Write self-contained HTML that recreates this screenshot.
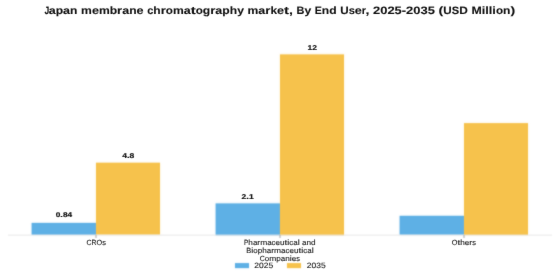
<!DOCTYPE html>
<html><head><meta charset="utf-8">
<style>
html,body{margin:0;padding:0;background:#fff;}
body{width:560px;height:280px;position:relative;overflow:hidden;font-family:"Liberation Sans",sans-serif;}
#w{position:absolute;left:0;top:0;width:560px;height:280px;background:#fff;overflow:hidden;filter:url(#f);}
#tx{position:absolute;left:0;top:0;width:560px;height:280px;overflow:hidden;filter:url(#g);}
.t{position:absolute;white-space:nowrap;line-height:1;text-rendering:geometricPrecision;}
span{position:absolute;left:0;top:0;white-space:pre;line-height:1;transform-origin:0 0;text-rendering:geometricPrecision;}
.bar{position:absolute;left:0;top:0;}
.b{background:#5EB0E5;box-shadow:0 0 2.5px rgba(94,176,229,0.22);}
.y{background:#F6C24C;box-shadow:0 0 2.5px rgba(246,194,76,0.22);}
#axis{position:absolute;left:0;top:0;width:544px;height:1px;background:#e8e8e8;transform:translate(8px,234.6px);}
.tick{position:absolute;left:0;top:0;width:1px;height:2.5px;background:#aaa;}
</style></head><body>
<svg width="0" height="0" style="position:absolute"><filter id="f" x="0" y="0" width="100%" height="100%" color-interpolation-filters="sRGB"><feConvolveMatrix order="3" kernelMatrix="0.0225 0.1050 0.0225 0.1050 0.4900 0.1050 0.0225 0.1050 0.0225" edgeMode="duplicate"/></filter><filter id="g" x="0" y="0" width="100%" height="100%" color-interpolation-filters="sRGB"><feConvolveMatrix order="3" kernelMatrix="0.0036 0.0528 0.0036 0.0528 0.7744 0.0528 0.0036 0.0528 0.0036" edgeMode="duplicate"/></filter></svg>
<div id="w">
<div class="bar b" style="width:65.40px;height:12.22px;transform:translate(31.60px,222.88px)"></div>
<div class="bar y" style="width:64.40px;height:72.43px;transform:translate(96.00px,162.67px)"></div>
<div class="bar b" style="width:65.40px;height:31.69px;transform:translate(215.60px,203.41px)"></div>
<div class="bar y" style="width:64.40px;height:180.70px;transform:translate(280.00px,54.40px)"></div>
<div class="bar b" style="width:65.40px;height:19.32px;transform:translate(399.60px,215.78px)"></div>
<div class="bar y" style="width:64.40px;height:111.97px;transform:translate(464.00px,123.13px)"></div>
<div id="axis"></div>
<div class="tick" style="transform:translate(95.5px,235px)"></div><div class="tick" style="transform:translate(279.5px,235px)"></div><div class="tick" style="transform:translate(463.5px,235px)"></div>
<div class="bar b" style="width:14.00px;height:4.80px;transform:translate(235.00px,263.10px)"></div>
<div class="bar y" style="width:14.20px;height:4.80px;transform:translate(287.00px,263.10px)"></div>
</div>
<div id="tx">
<span style="font-size:10.67px;font-weight:bold;color:#111;transform:translate(44.41px,6.20px) scale(0.800,1.000);-webkit-text-stroke:0.1px #111">J</span>
<span style="font-size:10.67px;font-weight:bold;color:#111;transform:translate(48.71px,6.20px) scale(1.177,1.000);-webkit-text-stroke:0.1px #111">a</span>
<span style="font-size:10.67px;font-weight:bold;color:#111;transform:translate(55.70px,6.20px) scale(1.137,1.000);-webkit-text-stroke:0.1px #111">p</span>
<span style="font-size:10.67px;font-weight:bold;color:#111;transform:translate(63.11px,6.20px) scale(1.178,1.000);-webkit-text-stroke:0.1px #111">a</span>
<span style="font-size:10.67px;font-weight:bold;color:#111;transform:translate(70.11px,6.20px) scale(1.132,1.000);-webkit-text-stroke:0.1px #111">n</span>
<span style="font-size:10.67px;font-weight:bold;color:#111;transform:translate(81.09px,6.20px) scale(1.138,1.000);-webkit-text-stroke:0.1px #111">m</span>
<span style="font-size:10.67px;font-weight:bold;color:#111;transform:translate(91.88px,6.20px) scale(1.184,1.000);-webkit-text-stroke:0.1px #111">e</span>
<span style="font-size:10.67px;font-weight:bold;color:#111;transform:translate(98.91px,6.20px) scale(1.138,1.000);-webkit-text-stroke:0.1px #111">m</span>
<span style="font-size:10.67px;font-weight:bold;color:#111;transform:translate(109.71px,6.20px) scale(1.138,1.000);-webkit-text-stroke:0.1px #111">b</span>
<span style="font-size:10.67px;font-weight:bold;color:#111;transform:translate(117.12px,6.20px) scale(1.230,1.000);-webkit-text-stroke:0.1px #111">r</span>
<span style="font-size:10.67px;font-weight:bold;color:#111;transform:translate(122.23px,6.20px) scale(1.178,1.000);-webkit-text-stroke:0.1px #111">a</span>
<span style="font-size:10.67px;font-weight:bold;color:#111;transform:translate(129.22px,6.20px) scale(1.132,1.000);-webkit-text-stroke:0.1px #111">n</span>
<span style="font-size:10.67px;font-weight:bold;color:#111;transform:translate(136.60px,6.20px) scale(1.183,1.000);-webkit-text-stroke:0.1px #111">e</span>
<span style="font-size:10.67px;font-weight:bold;color:#111;transform:translate(147.23px,6.20px) scale(1.034,1.000);-webkit-text-stroke:0.1px #111">c</span>
<span style="font-size:10.67px;font-weight:bold;color:#111;transform:translate(153.37px,6.20px) scale(1.131,1.000);-webkit-text-stroke:0.1px #111">h</span>
<span style="font-size:10.67px;font-weight:bold;color:#111;transform:translate(160.75px,6.20px) scale(1.230,1.000);-webkit-text-stroke:0.1px #111">r</span>
<span style="font-size:10.67px;font-weight:bold;color:#111;transform:translate(165.86px,6.20px) scale(1.091,1.000);-webkit-text-stroke:0.1px #111">o</span>
<span style="font-size:10.67px;font-weight:bold;color:#111;transform:translate(172.97px,6.20px) scale(1.138,1.000);-webkit-text-stroke:0.1px #111">m</span>
<span style="font-size:10.67px;font-weight:bold;color:#111;transform:translate(183.77px,6.20px) scale(1.177,1.000);-webkit-text-stroke:0.1px #111">a</span>
<span style="font-size:10.67px;font-weight:bold;color:#111;transform:translate(190.76px,6.20px) scale(1.394,1.000);-webkit-text-stroke:0.1px #111">t</span>
<span style="font-size:10.67px;font-weight:bold;color:#111;transform:translate(195.71px,6.20px) scale(1.092,1.000);-webkit-text-stroke:0.1px #111">o</span>
<span style="font-size:10.67px;font-weight:bold;color:#111;transform:translate(202.83px,6.20px) scale(1.137,1.000);-webkit-text-stroke:0.1px #111">g</span>
<span style="font-size:10.67px;font-weight:bold;color:#111;transform:translate(210.24px,6.20px) scale(1.231,1.000);-webkit-text-stroke:0.1px #111">r</span>
<span style="font-size:10.67px;font-weight:bold;color:#111;transform:translate(215.35px,6.20px) scale(1.177,1.000);-webkit-text-stroke:0.1px #111">a</span>
<span style="font-size:10.67px;font-weight:bold;color:#111;transform:translate(222.34px,6.20px) scale(1.138,1.000);-webkit-text-stroke:0.1px #111">p</span>
<span style="font-size:10.67px;font-weight:bold;color:#111;transform:translate(229.76px,6.20px) scale(1.132,1.000);-webkit-text-stroke:0.1px #111">h</span>
<span style="font-size:10.67px;font-weight:bold;color:#111;transform:translate(237.13px,6.20px) scale(1.138,1.000);-webkit-text-stroke:0.1px #111">y</span>
<span style="font-size:10.67px;font-weight:bold;color:#111;transform:translate(247.49px,6.20px) scale(1.138,1.000);-webkit-text-stroke:0.1px #111">m</span>
<span style="font-size:10.67px;font-weight:bold;color:#111;transform:translate(258.29px,6.20px) scale(1.178,1.000);-webkit-text-stroke:0.1px #111">a</span>
<span style="font-size:10.67px;font-weight:bold;color:#111;transform:translate(265.28px,6.20px) scale(1.231,1.000);-webkit-text-stroke:0.1px #111">r</span>
<span style="font-size:10.67px;font-weight:bold;color:#111;transform:translate(270.39px,6.20px) scale(1.114,1.000);-webkit-text-stroke:0.1px #111">k</span>
<span style="font-size:10.67px;font-weight:bold;color:#111;transform:translate(277.00px,6.20px) scale(1.183,1.000);-webkit-text-stroke:0.1px #111">e</span>
<span style="font-size:10.67px;font-weight:bold;color:#111;transform:translate(284.03px,6.20px) scale(1.393,1.000);-webkit-text-stroke:0.1px #111">t</span>
<span style="font-size:10.67px;font-weight:bold;color:#111;transform:translate(288.98px,6.20px) scale(1.327,1.000);-webkit-text-stroke:0.1px #111">,</span>
<span style="font-size:10.67px;font-weight:bold;color:#111;transform:translate(296.52px,6.20px) scale(1.024,1.000);-webkit-text-stroke:0.1px #111">B</span>
<span style="font-size:10.67px;font-weight:bold;color:#111;transform:translate(304.42px,6.20px) scale(1.138,1.000);-webkit-text-stroke:0.1px #111">y</span>
<span style="font-size:10.67px;font-weight:bold;color:#111;transform:translate(314.78px,6.20px) scale(0.994,1.000);-webkit-text-stroke:0.1px #111">E</span>
<span style="font-size:10.67px;font-weight:bold;color:#111;transform:translate(321.86px,6.20px) scale(1.132,1.000);-webkit-text-stroke:0.1px #111">n</span>
<span style="font-size:10.67px;font-weight:bold;color:#111;transform:translate(329.23px,6.20px) scale(1.137,1.000);-webkit-text-stroke:0.1px #111">d</span>
<span style="font-size:10.67px;font-weight:bold;color:#111;transform:translate(340.26px,6.20px) scale(1.091,1.000);-webkit-text-stroke:0.1px #111">U</span>
<span style="font-size:10.67px;font-weight:bold;color:#111;transform:translate(348.67px,6.20px) scale(1.040,1.000);-webkit-text-stroke:0.1px #111">s</span>
<span style="font-size:10.67px;font-weight:bold;color:#111;transform:translate(354.83px,6.20px) scale(1.184,1.000);-webkit-text-stroke:0.1px #111">e</span>
<span style="font-size:10.67px;font-weight:bold;color:#111;transform:translate(361.86px,6.20px) scale(1.006,1.000);-webkit-text-stroke:0.1px #111">r</span>
<span style="font-size:10.67px;font-weight:bold;color:#111;transform:translate(365.45px,6.20px) scale(1.327,1.000);-webkit-text-stroke:0.1px #111">,</span>
<span style="font-size:10.67px;font-weight:bold;color:#111;transform:translate(372.99px,6.20px) scale(1.215,1.000);-webkit-text-stroke:0.1px #111">2</span>
<span style="font-size:10.67px;font-weight:bold;color:#111;transform:translate(380.20px,6.20px) scale(1.215,1.000);-webkit-text-stroke:0.1px #111">0</span>
<span style="font-size:10.67px;font-weight:bold;color:#111;transform:translate(387.41px,6.20px) scale(1.214,1.000);-webkit-text-stroke:0.1px #111">2</span>
<span style="font-size:10.67px;font-weight:bold;color:#111;transform:translate(394.61px,6.20px) scale(1.214,1.000);-webkit-text-stroke:0.1px #111">5</span>
<span style="font-size:10.67px;font-weight:bold;color:#111;transform:translate(401.82px,6.20px) scale(1.211,1.000);-webkit-text-stroke:0.1px #111">-</span>
<span style="font-size:10.67px;font-weight:bold;color:#111;transform:translate(406.12px,6.20px) scale(1.214,1.000);-webkit-text-stroke:0.1px #111">2</span>
<span style="font-size:10.67px;font-weight:bold;color:#111;transform:translate(413.33px,6.20px) scale(1.214,1.000);-webkit-text-stroke:0.1px #111">0</span>
<span style="font-size:10.67px;font-weight:bold;color:#111;transform:translate(420.54px,6.20px) scale(1.215,1.000);-webkit-text-stroke:0.1px #111">3</span>
<span style="font-size:10.67px;font-weight:bold;color:#111;transform:translate(427.75px,6.20px) scale(1.215,1.000);-webkit-text-stroke:0.1px #111">5</span>
<span style="font-size:10.67px;font-weight:bold;color:#111;transform:translate(438.56px,6.20px) scale(1.333,1.000);-webkit-text-stroke:0.1px #111">(</span>
<span style="font-size:10.67px;font-weight:bold;color:#111;transform:translate(443.30px,6.20px) scale(1.092,1.000);-webkit-text-stroke:0.1px #111">U</span>
<span style="font-size:10.67px;font-weight:bold;color:#111;transform:translate(451.71px,6.20px) scale(1.048,1.000);-webkit-text-stroke:0.1px #111">S</span>
<span style="font-size:10.67px;font-weight:bold;color:#111;transform:translate(459.17px,6.20px) scale(1.115,1.000);-webkit-text-stroke:0.1px #111">D</span>
<span style="font-size:10.67px;font-weight:bold;color:#111;transform:translate(471.38px,6.20px) scale(1.159,1.000);-webkit-text-stroke:0.1px #111">M</span>
<span style="font-size:10.67px;font-weight:bold;color:#111;transform:translate(481.69px,6.20px) scale(1.199,1.000);-webkit-text-stroke:0.1px #111">i</span>
<span style="font-size:10.67px;font-weight:bold;color:#111;transform:translate(485.24px,6.20px) scale(1.197,1.000);-webkit-text-stroke:0.1px #111">l</span>
<span style="font-size:10.67px;font-weight:bold;color:#111;transform:translate(488.79px,6.20px) scale(1.199,1.000);-webkit-text-stroke:0.1px #111">l</span>
<span style="font-size:10.67px;font-weight:bold;color:#111;transform:translate(492.34px,6.20px) scale(1.197,1.000);-webkit-text-stroke:0.1px #111">i</span>
<span style="font-size:10.67px;font-weight:bold;color:#111;transform:translate(495.89px,6.20px) scale(1.093,1.000);-webkit-text-stroke:0.1px #111">o</span>
<span style="font-size:10.67px;font-weight:bold;color:#111;transform:translate(503.01px,6.20px) scale(1.132,1.000);-webkit-text-stroke:0.1px #111">n</span>
<span style="font-size:10.67px;font-weight:bold;color:#111;transform:translate(510.39px,6.20px) scale(1.330,1.000);-webkit-text-stroke:0.1px #111">)</span>
<span style="font-size:6.80px;font-weight:bold;color:#1a1a1a;transform:translate(55.78px,213.30px) scale(1.215,1.000);-webkit-text-stroke:0.2px #1a1a1a">0</span>
<span style="font-size:6.80px;font-weight:bold;color:#1a1a1a;transform:translate(60.37px,213.30px) scale(1.327,1.000);-webkit-text-stroke:0.2px #1a1a1a">.</span>
<span style="font-size:6.80px;font-weight:bold;color:#1a1a1a;transform:translate(62.88px,213.30px) scale(1.215,1.000);-webkit-text-stroke:0.2px #1a1a1a">8</span>
<span style="font-size:6.80px;font-weight:bold;color:#1a1a1a;transform:translate(67.47px,213.30px) scale(1.214,1.000);-webkit-text-stroke:0.2px #1a1a1a">4</span>
<span style="font-size:7.00px;font-weight:bold;color:#1a1a1a;transform:translate(122.25px,153.20px) scale(1.215,1.000);-webkit-text-stroke:0.2px #1a1a1a">4</span>
<span style="font-size:7.00px;font-weight:bold;color:#1a1a1a;transform:translate(126.98px,153.20px) scale(1.327,1.000);-webkit-text-stroke:0.2px #1a1a1a">.</span>
<span style="font-size:7.00px;font-weight:bold;color:#1a1a1a;transform:translate(129.56px,153.20px) scale(1.215,1.000);-webkit-text-stroke:0.2px #1a1a1a">8</span>
<span style="font-size:7.00px;font-weight:bold;color:#1a1a1a;transform:translate(241.56px,193.80px) scale(1.215,1.000);-webkit-text-stroke:0.2px #1a1a1a">2</span>
<span style="font-size:7.00px;font-weight:bold;color:#1a1a1a;transform:translate(246.30px,193.80px) scale(1.327,1.000);-webkit-text-stroke:0.2px #1a1a1a">.</span>
<span style="font-size:7.00px;font-weight:bold;color:#1a1a1a;transform:translate(248.88px,193.80px) scale(1.215,1.000);-webkit-text-stroke:0.2px #1a1a1a">1</span>
<span style="font-size:7.00px;font-weight:bold;color:#1a1a1a;transform:translate(307.50px,44.50px) scale(1.215,1.000);-webkit-text-stroke:0.2px #1a1a1a">1</span>
<span style="font-size:7.00px;font-weight:bold;color:#1a1a1a;transform:translate(312.24px,44.50px) scale(1.214,1.000);-webkit-text-stroke:0.2px #1a1a1a">2</span>
<span style="font-size:7.49px;color:#222;transform:translate(86.43px,239.00px) scale(0.930,1.000);-webkit-text-stroke:0.12px #222">C</span>
<span style="font-size:7.49px;color:#222;transform:translate(91.46px,239.00px) scale(0.925,1.000);-webkit-text-stroke:0.12px #222">R</span>
<span style="font-size:7.49px;color:#222;transform:translate(96.46px,239.00px) scale(0.973,1.000);-webkit-text-stroke:0.12px #222">O</span>
<span style="font-size:7.49px;color:#222;transform:translate(102.13px,239.00px) scale(1.001,1.000);-webkit-text-stroke:0.12px #222">s</span>
<span style="font-size:7.49px;color:#222;transform:translate(243.98px,239.20px) scale(0.869,1.000);-webkit-text-stroke:0.12px #222">P</span>
<span style="font-size:7.49px;color:#222;transform:translate(248.32px,239.20px) scale(1.096,1.000);-webkit-text-stroke:0.12px #222">h</span>
<span style="font-size:7.49px;color:#222;transform:translate(252.88px,239.20px) scale(1.059,1.000);-webkit-text-stroke:0.12px #222">a</span>
<span style="font-size:7.49px;color:#222;transform:translate(257.30px,239.20px) scale(1.136,1.000);-webkit-text-stroke:0.12px #222">r</span>
<span style="font-size:7.49px;color:#222;transform:translate(260.13px,239.20px) scale(1.125,1.000);-webkit-text-stroke:0.12px #222">m</span>
<span style="font-size:7.49px;color:#222;transform:translate(267.14px,239.20px) scale(1.059,1.000);-webkit-text-stroke:0.12px #222">a</span>
<span style="font-size:7.49px;color:#222;transform:translate(271.56px,239.20px) scale(1.057,1.000);-webkit-text-stroke:0.12px #222">c</span>
<span style="font-size:7.49px;color:#222;transform:translate(275.51px,239.20px) scale(1.063,1.000);-webkit-text-stroke:0.12px #222">e</span>
<span style="font-size:7.49px;color:#222;transform:translate(279.94px,239.20px) scale(1.095,1.000);-webkit-text-stroke:0.12px #222">u</span>
<span style="font-size:7.49px;color:#222;transform:translate(284.51px,239.20px) scale(1.356,1.000);-webkit-text-stroke:0.12px #222">t</span>
<span style="font-size:7.49px;color:#222;transform:translate(287.33px,239.20px) scale(1.201,1.000);-webkit-text-stroke:0.12px #222">i</span>
<span style="font-size:7.49px;color:#222;transform:translate(289.33px,239.20px) scale(1.057,1.000);-webkit-text-stroke:0.12px #222">c</span>
<span style="font-size:7.49px;color:#222;transform:translate(293.29px,239.20px) scale(1.060,1.000);-webkit-text-stroke:0.12px #222">a</span>
<span style="font-size:7.49px;color:#222;transform:translate(297.70px,239.20px) scale(1.203,1.000);-webkit-text-stroke:0.12px #222">l</span>
<span style="font-size:7.49px;color:#222;transform:translate(301.99px,239.20px) scale(1.059,1.000);-webkit-text-stroke:0.12px #222">a</span>
<span style="font-size:7.49px;color:#222;transform:translate(306.40px,239.20px) scale(1.095,1.000);-webkit-text-stroke:0.12px #222">n</span>
<span style="font-size:7.49px;color:#222;transform:translate(310.97px,239.20px) scale(1.097,1.000);-webkit-text-stroke:0.12px #222">d</span>
<span style="font-size:7.49px;color:#222;transform:translate(246.34px,246.90px) scale(0.989,1.000);-webkit-text-stroke:0.12px #222">B</span>
<span style="font-size:7.49px;color:#222;transform:translate(251.28px,246.90px) scale(1.201,1.000);-webkit-text-stroke:0.12px #222">i</span>
<span style="font-size:7.49px;color:#222;transform:translate(253.28px,246.90px) scale(1.058,1.000);-webkit-text-stroke:0.12px #222">o</span>
<span style="font-size:7.49px;color:#222;transform:translate(257.68px,246.90px) scale(1.098,1.000);-webkit-text-stroke:0.12px #222">p</span>
<span style="font-size:7.49px;color:#222;transform:translate(262.25px,246.90px) scale(1.096,1.000);-webkit-text-stroke:0.12px #222">h</span>
<span style="font-size:7.49px;color:#222;transform:translate(266.82px,246.90px) scale(1.059,1.000);-webkit-text-stroke:0.12px #222">a</span>
<span style="font-size:7.49px;color:#222;transform:translate(271.23px,246.90px) scale(1.136,1.000);-webkit-text-stroke:0.12px #222">r</span>
<span style="font-size:7.49px;color:#222;transform:translate(274.06px,246.90px) scale(1.124,1.000);-webkit-text-stroke:0.12px #222">m</span>
<span style="font-size:7.49px;color:#222;transform:translate(281.08px,246.90px) scale(1.059,1.000);-webkit-text-stroke:0.12px #222">a</span>
<span style="font-size:7.49px;color:#222;transform:translate(285.49px,246.90px) scale(1.058,1.000);-webkit-text-stroke:0.12px #222">c</span>
<span style="font-size:7.49px;color:#222;transform:translate(289.45px,246.90px) scale(1.064,1.000);-webkit-text-stroke:0.12px #222">e</span>
<span style="font-size:7.49px;color:#222;transform:translate(293.88px,246.90px) scale(1.095,1.000);-webkit-text-stroke:0.12px #222">u</span>
<span style="font-size:7.49px;color:#222;transform:translate(298.44px,246.90px) scale(1.356,1.000);-webkit-text-stroke:0.12px #222">t</span>
<span style="font-size:7.49px;color:#222;transform:translate(301.26px,246.90px) scale(1.201,1.000);-webkit-text-stroke:0.12px #222">i</span>
<span style="font-size:7.49px;color:#222;transform:translate(303.26px,246.90px) scale(1.057,1.000);-webkit-text-stroke:0.12px #222">c</span>
<span style="font-size:7.49px;color:#222;transform:translate(307.22px,246.90px) scale(1.059,1.000);-webkit-text-stroke:0.12px #222">a</span>
<span style="font-size:7.49px;color:#222;transform:translate(311.63px,246.90px) scale(1.203,1.000);-webkit-text-stroke:0.12px #222">l</span>
<span style="font-size:7.49px;color:#222;transform:translate(259.73px,254.50px) scale(0.930,1.000);-webkit-text-stroke:0.12px #222">C</span>
<span style="font-size:7.49px;color:#222;transform:translate(264.76px,254.50px) scale(1.057,1.000);-webkit-text-stroke:0.12px #222">o</span>
<span style="font-size:7.49px;color:#222;transform:translate(269.16px,254.50px) scale(1.125,1.000);-webkit-text-stroke:0.12px #222">m</span>
<span style="font-size:7.49px;color:#222;transform:translate(276.17px,254.50px) scale(1.098,1.000);-webkit-text-stroke:0.12px #222">p</span>
<span style="font-size:7.49px;color:#222;transform:translate(280.75px,254.50px) scale(1.059,1.000);-webkit-text-stroke:0.12px #222">a</span>
<span style="font-size:7.49px;color:#222;transform:translate(285.16px,254.50px) scale(1.095,1.000);-webkit-text-stroke:0.12px #222">n</span>
<span style="font-size:7.49px;color:#222;transform:translate(289.72px,254.50px) scale(1.203,1.000);-webkit-text-stroke:0.12px #222">i</span>
<span style="font-size:7.49px;color:#222;transform:translate(291.72px,254.50px) scale(1.063,1.000);-webkit-text-stroke:0.12px #222">e</span>
<span style="font-size:7.49px;color:#222;transform:translate(296.15px,254.50px) scale(1.001,1.000);-webkit-text-stroke:0.12px #222">s</span>
<span style="font-size:7.49px;color:#222;transform:translate(451.79px,239.30px) scale(0.973,1.000);-webkit-text-stroke:0.12px #222">O</span>
<span style="font-size:7.49px;color:#222;transform:translate(457.46px,239.30px) scale(1.356,1.000);-webkit-text-stroke:0.12px #222">t</span>
<span style="font-size:7.49px;color:#222;transform:translate(460.28px,239.30px) scale(1.096,1.000);-webkit-text-stroke:0.12px #222">h</span>
<span style="font-size:7.49px;color:#222;transform:translate(464.84px,239.30px) scale(1.064,1.000);-webkit-text-stroke:0.12px #222">e</span>
<span style="font-size:7.49px;color:#222;transform:translate(469.27px,239.30px) scale(1.187,1.000);-webkit-text-stroke:0.12px #222">r</span>
<span style="font-size:7.49px;color:#222;transform:translate(472.23px,239.30px) scale(1.002,1.000);-webkit-text-stroke:0.12px #222">s</span>
<span style="font-size:7.70px;color:#222;transform:translate(254.36px,262.00px) scale(1.100,1.000);-webkit-text-stroke:0.12px #222">2</span>
<span style="font-size:7.70px;color:#222;transform:translate(259.06px,262.00px) scale(1.100,1.000);-webkit-text-stroke:0.12px #222">0</span>
<span style="font-size:7.70px;color:#222;transform:translate(263.77px,262.00px) scale(1.100,1.000);-webkit-text-stroke:0.12px #222">2</span>
<span style="font-size:7.70px;color:#222;transform:translate(268.48px,262.00px) scale(1.100,1.000);-webkit-text-stroke:0.12px #222">5</span>
<span style="font-size:7.70px;color:#222;transform:translate(306.76px,262.00px) scale(1.100,1.000);-webkit-text-stroke:0.12px #222">2</span>
<span style="font-size:7.70px;color:#222;transform:translate(311.46px,262.00px) scale(1.100,1.000);-webkit-text-stroke:0.12px #222">0</span>
<span style="font-size:7.70px;color:#222;transform:translate(316.17px,262.00px) scale(1.100,1.000);-webkit-text-stroke:0.12px #222">3</span>
<span style="font-size:7.70px;color:#222;transform:translate(320.88px,262.00px) scale(1.100,1.000);-webkit-text-stroke:0.12px #222">5</span>
</div>
</body></html>
